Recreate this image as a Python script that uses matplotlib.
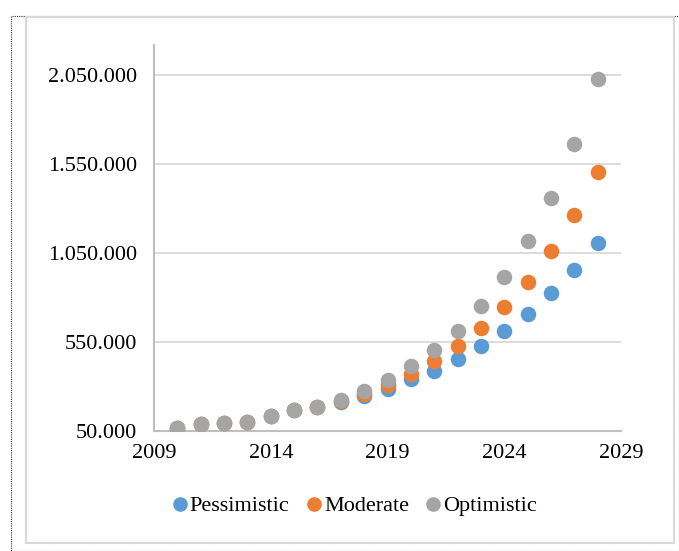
import matplotlib.pyplot as plt
from matplotlib.patches import Rectangle
from matplotlib.lines import Line2D
from matplotlib.ticker import FuncFormatter

years = list(range(2010, 2029))
pessimistic = [65000, 87000, 95000, 101000, 135000, 170000, 187000, 212000, 244000, 287000,
               340000, 390000, 456000, 530000, 614000, 710000, 825000, 956000, 1108000]
moderate = [65000, 87000, 95000, 101000, 135000, 170000, 187000, 220000, 259000, 310000,
            372000, 445000, 530000, 631000, 749000, 888000, 1063000, 1266000, 1505000]
optimistic = [65000, 87000, 95000, 101000, 135000, 170000, 187000, 227000, 277000, 335000,
              413000, 503000, 612000, 750000, 918000, 1119000, 1362000, 1663000, 2031000]

names = ['Pessimistic', 'Moderate', 'Optimistic']
colors = ['#5B9BD5', '#ED7D31', '#A5A5A5']
yticks = [50000, 550000, 1050000, 1550000, 2050000]
xticks = [2009, 2014, 2019, 2024, 2029]

plt.rcParams['font.family'] = ['Liberation Serif']
W, H = 679, 551
fig = plt.figure(figsize=(W / 100, H / 100), dpi=100)

# frames around chart
fig.patches.append(Rectangle((11 / W, 0), 1 - 11 / W, 1 - 16 / H, transform=fig.transFigure,
                             fill=False, edgecolor='#333333', linestyle=(0, (1, 1)), linewidth=0.8))
fig.patches.append(Rectangle((26 / W, 1 - 543 / H), (674 - 26) / W, (543 - 17) / H,
                             transform=fig.transFigure, fill=False, edgecolor='#D9D9D9', linewidth=1.5))

ax = fig.add_axes([154 / W, 1 - 431 / H, (621 - 154) / W, (431 - 45) / H])
for vals, c, n in zip([pessimistic, moderate, optimistic], colors, names):
    ax.scatter(years, vals, s=125, color=c, label=n, zorder=3, linewidths=0)

ax.set_xlim(2009, 2029)
ax.set_ylim(50000, 2220000)
ax.set_xticks(xticks)
ax.set_yticks(yticks)
ax.yaxis.set_major_formatter(FuncFormatter(lambda v, p: '{:,.0f}'.format(v).replace(',', '.')))
ax.grid(axis='y', color='#D9D9D9', linewidth=1.3)
ax.set_axisbelow(True)
for s in ['top', 'right']:
    ax.spines[s].set_visible(False)
for s in ['left', 'bottom']:
    ax.spines[s].set_color('#BFBFBF')
    ax.spines[s].set_linewidth(1.5)
ax.tick_params(length=0, labelsize=16, colors='black')
ax.tick_params(axis='x', pad=9)
ax.tick_params(axis='y', pad=12)

handles = [Line2D([], [], marker='o', linestyle='', color=c, markersize=9.5) for c in colors]
fig.legend(handles, names, loc='center', bbox_to_anchor=(354 / W, 1 - 506 / H), ncol=3,
           frameon=False, fontsize=16, handlelength=0.8, handletextpad=0.05, columnspacing=0.7)

plt.savefig('out.png', dpi=100)
